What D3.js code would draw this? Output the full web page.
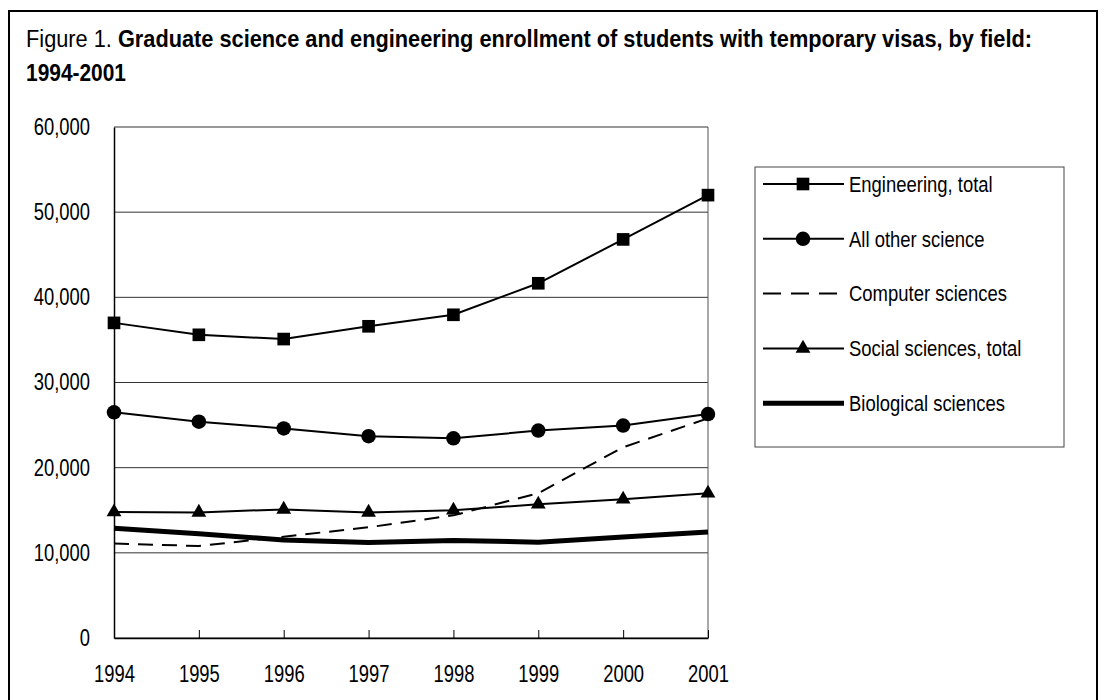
<!DOCTYPE html>
<html>
<head>
<meta charset="utf-8">
<script src="https://cdn.jsdelivr.net/npm/d3@7"></script>
<style>
  body { margin: 0; background: #fff; }
  svg text { font-family: "Liberation Sans Narrow", "Arial Narrow", "Liberation Sans", Arial, sans-serif; fill: #000; }
</style>
</head>
<body>
<svg id="chart" width="1106" height="700"></svg>
<script>
// data
var years = [1994, 1995, 1996, 1997, 1998, 1999, 2000, 2001];
var engineering = [37000, 35600, 35100, 36600, 37950, 41650, 46800, 52000];
var allOther = [26500, 25400, 24600, 23700, 23450, 24350, 24950, 26300];
var computer = [11100, 10800, 11900, 13000, 14400, 17000, 22400, 25800];
var social = [14800, 14750, 15100, 14750, 15000, 15700, 16300, 17000];
var biological = [12900, 12250, 11500, 11200, 11450, 11250, 11850, 12450];
var yTicks = [0, 10000, 20000, 30000, 40000, 50000, 60000];

var series = [
  { name: "Engineering, total", values: engineering, marker: "square", width: 2, dash: null },
  { name: "All other science", values: allOther, marker: "circle", width: 2, dash: null },
  { name: "Computer sciences", values: computer, marker: null, width: 2, dash: "15,9" },
  { name: "Social sciences, total", values: social, marker: "triangle", width: 2, dash: null },
  { name: "Biological sciences", values: biological, marker: null, width: 5, dash: null }
];

// the original uses a narrow face; squeeze the regular one sideways
var squeeze = 0.8;

var svg = d3.select("#chart");

// outer frame
svg.append("rect")
  .attr("x", 9).attr("y", 11)
  .attr("width", 1088).attr("height", 700)
  .attr("fill", "none").attr("stroke", "#000").attr("stroke-width", 2);

// title
var title = svg.append("text").attr("x", 26).attr("y", 47).style("font-size", "23px")
  .attr("textLength", 1006).attr("lengthAdjust", "spacingAndGlyphs");
title.append("tspan").text("Figure 1. ");
title.append("tspan").style("font-weight", "bold")
  .text("Graduate science and engineering enrollment of students with temporary visas, by field:");
svg.append("text").attr("x", 26).attr("y", 81)
  .attr("textLength", 100).attr("lengthAdjust", "spacingAndGlyphs")
  .style("font-size", "23px").style("font-weight", "bold").text("1994-2001");

var plotLeft = 114, plotRight = 708, plotTop = 127, plotBottom = 638;

var x = d3.scalePoint().domain(years).range([plotLeft, plotRight]);
var y = d3.scaleLinear().domain([0, 60000]).range([plotBottom, plotTop]);

// gridlines
svg.append("g").selectAll("line").data(yTicks).enter().append("line")
  .attr("x1", plotLeft).attr("x2", plotRight)
  .attr("y1", function(d) { return y(d); }).attr("y2", function(d) { return y(d); })
  .attr("stroke", "#333").attr("stroke-width", 1);

// right border of plot
svg.append("line").attr("x1", plotRight).attr("x2", plotRight).attr("y1", plotTop).attr("y2", plotBottom)
  .attr("stroke", "#555").attr("stroke-width", 1);

// y axis
var yAxis = d3.axisLeft(y).tickValues(yTicks).tickSize(0).tickPadding(24)
  .tickFormat(d3.format(","));
var gy = svg.append("g").attr("transform", "translate(" + plotLeft + ",0)").call(yAxis);
gy.select(".domain").attr("stroke", "#000").attr("stroke-width", 1.5);
gy.selectAll("text").style("font-size", "23px")
  .attr("x", -24 / squeeze)
  .attr("transform", "scale(" + squeeze + ",1)");

// x axis, ticks pointing inward
var xAxis = d3.axisBottom(x).tickSizeInner(-8).tickSizeOuter(0).tickPadding(28);
var gx = svg.append("g").attr("transform", "translate(0," + plotBottom + ")").call(xAxis);
gx.select(".domain").attr("stroke", "#000").attr("stroke-width", 1.5);
gx.selectAll(".tick line").attr("stroke", "#000");
gx.selectAll("text").style("font-size", "23px")
  .attr("transform", "scale(" + squeeze + ",1)");

// lines
var line = d3.line()
  .x(function(d, i) { return x(years[i]); })
  .y(function(d) { return y(d); });

var symbols = {
  square: d3.symbol().type(d3.symbolSquare).size(160),
  circle: d3.symbol().type(d3.symbolCircle).size(165),
  triangle: d3.symbol().type(d3.symbolTriangle).size(95)
};

series.forEach(function(s) {
  svg.append("path")
    .datum(s.values)
    .attr("d", line)
    .attr("fill", "none")
    .attr("stroke", "#000")
    .attr("stroke-width", s.width)
    .attr("stroke-dasharray", s.dash)
    .attr("stroke-linejoin", "round");
  if (s.marker) {
    svg.append("g").selectAll("path").data(s.values).enter().append("path")
      .attr("d", symbols[s.marker])
      .attr("transform", function(d, i) { return "translate(" + x(years[i]) + "," + y(d) + ")"; })
      .attr("fill", "#000");
  }
});

// legend
var legend = svg.append("g");
legend.append("rect")
  .attr("x", 755).attr("y", 167).attr("width", 309).attr("height", 280)
  .attr("fill", "#fff").attr("stroke", "#444").attr("stroke-width", 1);

var items = legend.selectAll("g.item").data(series).enter().append("g")
  .attr("class", "item")
  .attr("transform", function(d, i) { return "translate(0," + (184 + i * 54.8) + ")"; });

items.append("line")
  .attr("x1", 763).attr("x2", 844).attr("y1", 0).attr("y2", 0)
  .attr("stroke", "#000")
  .attr("stroke-width", function(d) { return d.width; })
  .attr("stroke-dasharray", function(d) { return d.dash ? "18,10" : null; });

items.filter(function(d) { return d.marker; }).append("path")
  .attr("d", function(d) { return symbols[d.marker](); })
  .attr("transform", "translate(803,0)")
  .attr("fill", "#000");

items.append("text")
  .attr("transform", "translate(849,0) scale(0.84,1)")
  .attr("dy", "0.35em")
  .style("font-size", "22px")
  .text(function(d) { return d.name; });
</script>
</body>
</html>
